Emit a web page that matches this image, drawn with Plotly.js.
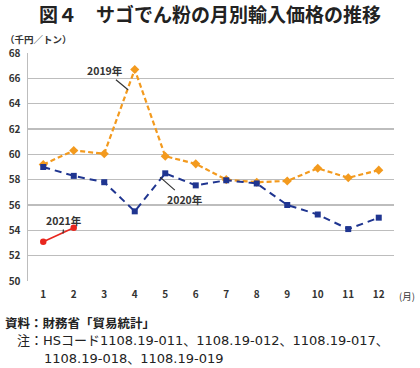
<!DOCTYPE html>
<html>
<head>
<meta charset="utf-8">
<script src="https://cdn.plot.ly/plotly-3.0.1.min.js"></script>
<style>html,body{margin:0;padding:0;background:#fff;}#chart{width:420px;height:368px;}</style>
</head>
<body>
<div id="chart"></div>
<script>
const months = [1,2,3,4,5,6,7,8,9,10,11,12];
const y2019 = [59.2,60.3,60.05,66.7,59.85,59.25,58.0,57.8,57.9,58.9,58.15,58.75];
const y2020 = [59.0,58.3,57.8,55.5,58.5,57.55,57.95,57.7,56.0,55.25,54.1,55.0];
const months2021 = [1,2];
const y2021 = [53.1,54.2];
const yTicks = [50,52,54,56,58,60,62,64,66,68];
const seriesNames = ['2019年','2020年','2021年'];

const W = 420, H = 368;
const M = {l:28, r:26, t:53, b:87};
const pw = W - M.l - M.r, ph = H - M.t - M.b;
const px = x => (x - M.l) / pw;
const py = y => (H - M.b - y) / ph;

const FONT = '"Noto Sans CJK JP", "Noto Sans", sans-serif';
const NOTE_FONT = '"DejaVu Sans", "Noto Sans CJK JP", sans-serif';

const traces = [
  {x: months, y: y2019, name: seriesNames[0], type:'scatter', mode:'lines+markers',
   line:{color:'#f39a1e', width:2.2, dash:'5px,3px'},
   marker:{symbol:'diamond', size:7, color:'#f39a1e'}},
  {x: months, y: y2020, name: seriesNames[1], type:'scatter', mode:'lines+markers',
   line:{color:'#1f3590', width:2, dash:'7px,5px'},
   marker:{symbol:'square', size:6, color:'#1f3590'}},
  {x: months2021, y: y2021, name: seriesNames[2], type:'scatter', mode:'lines+markers',
   line:{color:'#e8261e', width:1.6},
   marker:{symbol:'circle', size:6.5, color:'#e8261e'}}
];

const annFont = {family: FONT, size: 10.5, color:'#333'};
const layout = {
  width: W, height: H,
  margin: M,
  paper_bgcolor:'#fff', plot_bgcolor:'#fff',
  showlegend:false,
  title:{text:'<b>図４　サゴでん粉の月別輸入価格の推移</b>', x:0.5, xanchor:'center', y:1-15/H, yanchor:'middle',
         font:{family: FONT, size:19, color:'#222'}},
  xaxis:{range:[0.5,12.5], tickvals: months, ticktext: months.map(String), showgrid:false,
         zeroline:false, showline:false, ticks:'', tickfont:{family:FONT, size:10, color:'#333', weight:'bold'},
         ticklabelstandoff: 6, fixedrange:true},
  yaxis:{range:[50,68], tickvals: yTicks, ticktext: yTicks.map(String), showgrid:true, gridcolor:'#bdbdbd', gridwidth:1.5,
         zeroline:false, showline:true, linecolor:'#bdbdbd', linewidth:1.5, ticks:'',
         tickfont:{family:FONT, size:10, color:'#333', weight:'bold'}, ticklabelstandoff: 4, fixedrange:true},
  annotations:[
    {xref:'x', yref:'y', x:3.78, y:65.1, text:'<b>2019年</b>', showarrow:true, arrowhead:0, arrowwidth:1.2, arrowcolor:'#333',
     ax:-23, ay:-19, font:annFont},
    {xref:'x', yref:'y', x:4.83, y:58.2, text:'<b>2020年</b>', showarrow:true, arrowhead:0, arrowwidth:1.2, arrowcolor:'#333',
     ax:25, ay:22, font:annFont},
    {xref:'x', yref:'y', x:1.65, y:53.75, text:'<b>2021年</b>', showarrow:true, arrowhead:0, arrowwidth:1.2, arrowcolor:'#333',
     ax:1, ay:-13, font:annFont},
    {xref:'paper', yref:'paper', x:px(3), y:py(39), xanchor:'left', yanchor:'middle', showarrow:false,
     text:'<b>（千円／トン）</b>', font:{family:FONT, size:9.5, color:'#333'}},
    {xref:'paper', yref:'paper', x:px(397), y:py(296), xanchor:'left', yanchor:'middle', showarrow:false,
     text:'(月)', font:{family:FONT, size:9.5, color:'#333'}},
    {xref:'paper', yref:'paper', x:px(3), y:py(322), xanchor:'left', yanchor:'middle', showarrow:false,
     text:'<b>資料：財務省「貿易統計」</b>', font:{family:FONT, size:12.5, color:'#222'}},
    {xref:'paper', yref:'paper', x:px(15), y:py(340), xanchor:'left', yanchor:'middle', showarrow:false,
     text:'注：HSコード1108.19-011、1108.19-012、1108.19-017、', font:{family:NOTE_FONT, size:13, color:'#222'}},
    {xref:'paper', yref:'paper', x:px(42), y:py(358), xanchor:'left', yanchor:'middle', showarrow:false,
     text:'1108.19-018、1108.19-019', font:{family:NOTE_FONT, size:13, color:'#222'}}
  ]
};
Plotly.newPlot('chart', traces, layout, {displayModeBar:false, staticPlot:true});
</script>
</body>
</html>
